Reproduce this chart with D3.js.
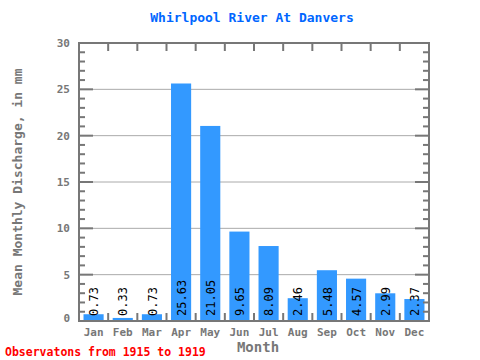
<!DOCTYPE html>
<html><head><meta charset="utf-8">
<script src="https://cdn.jsdelivr.net/npm/d3@7"></script>
<style>body{margin:0;background:#fff}svg{display:block}</style>
</head><body>
<svg id="c" width="480" height="360"></svg>
<script>
const months = ["Jan","Feb","Mar","Apr","May","Jun","Jul","Aug","Sep","Oct","Nov","Dec"];
const values = [0.73,0.33,0.73,25.63,21.05,9.65,8.09,2.46,5.48,4.57,2.99,2.37];
const yTicks = [0,5,10,15,20,25,30];

const svg = d3.select("#c");
const L=79, R=429, T=43, B=321;
const font = "'DejaVu Sans Mono', 'Liberation Mono', monospace";
const axisColor = "#777";
const x = d3.scaleBand().domain(months).range([L,R]).paddingInner(0.31).paddingOuter(0.155);
const xb = d3.scaleLinear().domain([0,12]).range([L,R]);
const y = d3.scaleLinear().domain([0,30]).range([B,T]);

// gridlines
svg.append("g").selectAll("line").data(yTicks.filter(d=>d>0&&d<30)).join("line")
  .attr("x1",L).attr("x2",R).attr("y1",d=>y(d)).attr("y2",d=>y(d))
  .attr("stroke","#aaa").attr("stroke-width",1);

// bars
svg.append("g").selectAll("rect").data(values).join("rect")
  .attr("x",(d,i)=>x(months[i])).attr("width",x.bandwidth())
  .attr("y",d=>y(d)).attr("height",d=>B-y(d)).attr("fill","#3399ff");

// value labels
svg.append("g").selectAll("text").data(values).join("text")
  .attr("transform",(d,i)=>`translate(${x(months[i])+x.bandwidth()/2+0.5},${B-5}) rotate(-90)`)
  .attr("dy","0.35em").attr("font-family",font).attr("font-size",12).attr("fill","#000")
  .text(d=>d.toFixed(2));

// minor ticks left/right
const minor = d3.range(0,31);
svg.append("g").selectAll("line").data(minor).join("line")
  .attr("x1",L).attr("x2",d=>L+(d%5===0?14:6)).attr("y1",d=>y(d)).attr("y2",d=>y(d))
  .attr("stroke",axisColor).attr("stroke-width",2);
svg.append("g").selectAll("line").data(minor).join("line")
  .attr("x1",R).attr("x2",d=>R-(d%5===0?14:6)).attr("y1",d=>y(d)).attr("y2",d=>y(d))
  .attr("stroke",axisColor).attr("stroke-width",2);

// x ticks top / bottom at band boundaries
const bounds = d3.range(1,12);
svg.append("g").selectAll("line").data(bounds).join("line")
  .attr("x1",d=>xb(d)).attr("x2",d=>xb(d)).attr("y1",T).attr("y2",T+8)
  .attr("stroke",axisColor).attr("stroke-width",2);
svg.append("g").selectAll("line").data(bounds).join("line")
  .attr("x1",d=>xb(d)).attr("x2",d=>xb(d)).attr("y1",B).attr("y2",B-8)
  .attr("stroke",axisColor).attr("stroke-width",2);

// frame
svg.append("rect").attr("x",L).attr("y",T).attr("width",R-L).attr("height",B-T)
  .attr("fill","none").attr("stroke",axisColor).attr("stroke-width",2);

// y tick labels
svg.append("g").selectAll("text").data(yTicks).join("text")
  .attr("x",70).attr("y",d=>d===0?y(d)-3:y(d)).attr("dy","0.35em").attr("text-anchor","end")
  .attr("font-family",font).attr("font-size",11).attr("font-weight","bold").attr("fill","#777")
  .text(d=>d);

// x tick labels
svg.append("g").selectAll("text").data(months).join("text")
  .attr("x",d=>x(d)+x.bandwidth()/2).attr("y",336).attr("text-anchor","middle")
  .attr("font-family",font).attr("font-size",11).attr("font-weight","bold").attr("fill","#777")
  .text(d=>d);

// title
svg.append("text").attr("x",252).attr("y",22).attr("text-anchor","middle")
  .attr("font-family",font).attr("font-size",13).attr("font-weight","bold").attr("fill","#0066ff")
  .text("Whirlpool River At Danvers");

// axis titles
svg.append("text").attr("transform","translate(22,182) rotate(-90)").attr("text-anchor","middle")
  .attr("font-family",font).attr("font-size",13).attr("font-weight","bold").attr("fill","#777")
  .text("Mean Monthly Discharge, in mm");
svg.append("text").attr("x",258).attr("y",352).attr("text-anchor","middle")
  .attr("font-family",font).attr("font-size",14).attr("font-weight","bold").attr("fill","#777")
  .text("Month");

svg.append("text").attr("x",5).attr("y",356)
  .attr("font-family",font).attr("font-size",11.5).attr("font-weight","bold").attr("fill","#ff0000")
  .text("Observatons from 1915 to 1919");
</script>
</body></html>
